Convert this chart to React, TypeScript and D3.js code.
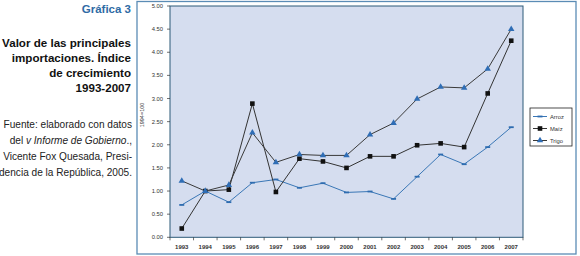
import React from "react";
import * as d3 from "d3";

const years = ["1993","1994","1995","1996","1997","1998","1999","2000","2001","2002","2003","2004","2005","2006","2007"];
const arroz = [0.70,1.00,0.76,1.18,1.25,1.07,1.17,0.97,0.99,0.83,1.31,1.79,1.58,1.95,2.38];
const maiz = [0.19,1.00,1.03,2.89,0.98,1.70,1.64,1.50,1.75,1.75,1.99,2.03,1.95,3.11,4.25];
const trigo = [1.22,1.00,1.13,2.26,1.62,1.79,1.77,1.77,2.22,2.47,2.99,3.25,3.23,3.64,4.50];
const yTicks = [0,0.5,1,1.5,2,2.5,3,3.5,4,4.5,5];
const seriesNames = ["Arroz","Maíz","Trigo"];
const titleLines = ["Valor de las principales","importaciones. Índice","de crecimiento","1993-2007"];

const W = 580, H = 256;
const PL = 170, PR = 523, PT = 6, PB = 237.3;

export default function App() {
  const x = d3.scaleBand<string>().domain(years).range([PL, PR]);
  const y = d3.scaleLinear().domain([0, 5]).range([PB, PT]);
  const cx = (i: number) => (x(years[i]) as number) + x.bandwidth() / 2;
  const line = (vals: number[]) =>
    d3.line<number>().x((_, i) => cx(i)).y((v) => y(v))(vals) as string;

  const series = [
    { name: seriesNames[0], vals: arroz, line: "#3a77b6", marker: "dash", mcolor: "#2e6cb0" },
    { name: seriesNames[1], vals: maiz, line: "#333333", marker: "square", mcolor: "#111111" },
    { name: seriesNames[2], vals: trigo, line: "#3a3a3a", marker: "tri", mcolor: "#2f6db5" },
  ];

  const marker = (type: string, color: string, px: number, py: number, key: any) => {
    if (type === "dash") return <rect key={key} x={px - 2.5} y={py - 0.9} width={5} height={1.8} fill={color} />;
    if (type === "square") return <rect key={key} x={px - 2.3} y={py - 2.3} width={4.6} height={4.6} fill={color} />;
    const s = d3.symbol().type(d3.symbolTriangle).size(18)() as string;
    return <path key={key} d={s} transform={`translate(${px},${py})`} fill={color} />;
  };

  const font = "'Liberation Sans', Arial, sans-serif";

  return (
    <svg width={W} height={H} style={{ position: "absolute", left: 0, top: 0, background: "#fff" }} fontFamily={font}>
      {/* left text */}
      <text x={131} y={13} textAnchor="end" fontSize={11.5} fontWeight="bold" fill="#2f6ba5">Gráfica 3</text>
      {titleLines.map((t, i) => (
        <text key={t} x={131} y={46.5 + i * 15} textAnchor="end" fontSize={11.6} fontWeight="bold" fill="#111">{t}</text>
      ))}
      <g fontSize={10.1} fill="#222" textAnchor="end">
        <text x={132} y={127.5}>Fuente: elaborado con datos</text>
        <text x={132} y={143.5}>del <tspan fontStyle="italic">v Informe de Gobierno</tspan>.,</text>
        <text x={132} y={159.5}>Vicente Fox Quesada, Presi-</text>
        <text x={132} y={175.5}>dencia de la República, 2005.</text>
      </g>

      {/* outer frame */}
      <rect x={137} y={1.5} width={439} height={252.5} fill="none" stroke="#5b8cb5" strokeWidth={1.3} />

      {/* plot area */}
      <rect x={PL} y={PT} width={PR - PL} height={PB - PT} fill="#d5ddef" stroke="#2d5a78" strokeWidth={1} />

      {/* y axis */}
      <g fontSize={5.8} fill="#333">
        {yTicks.map((t) => (
          <g key={t}>
            <line x1={PL - 3} x2={PL} y1={y(t)} y2={y(t)} stroke="#333" strokeWidth={0.7} />
            <text x={163} y={y(t) + 2} textAnchor="end">{t.toFixed(2)}</text>
          </g>
        ))}
      </g>
      <text transform={`translate(143.5,115) rotate(-90)`} textAnchor="middle" fontSize={5.5} fill="#333">1994=100</text>

      {/* x axis */}
      <g fontSize={6} fill="#333" fontWeight="bold">
        {years.map((yr, i) => (
          <g key={yr}>
            <line x1={x(yr) as number} x2={x(yr) as number} y1={PB} y2={PB + 3} stroke="#333" strokeWidth={0.7} />
            <text x={cx(i)} y={249} textAnchor="middle">{yr}</text>
          </g>
        ))}
        <line x1={PR} x2={PR} y1={PB} y2={PB + 3} stroke="#333" strokeWidth={0.7} />
      </g>

      {/* lines */}
      {series.map((s) => (
        <g key={s.name}>
          <path d={line(s.vals)} fill="none" stroke={s.line} strokeWidth={1} />
          {s.vals.map((v, i) => marker(s.marker, s.mcolor, cx(i), y(v), i))}
        </g>
      ))}

      {/* legend */}
      <rect x={530} y={108} width={42} height={38} fill="#fff" stroke="#222" strokeWidth={0.8} />
      {series.map((s, i) => {
        const ly = 116.5 + i * 12;
        return (
          <g key={s.name}>
            <line x1={533} x2={547} y1={ly} y2={ly} stroke={s.line} strokeWidth={1} />
            {marker(s.marker, s.mcolor, 540, ly, "m")}
            <text x={550} y={ly + 2} fontSize={5.8} fill="#333">{s.name}</text>
          </g>
        );
      })}
    </svg>
  );
}
